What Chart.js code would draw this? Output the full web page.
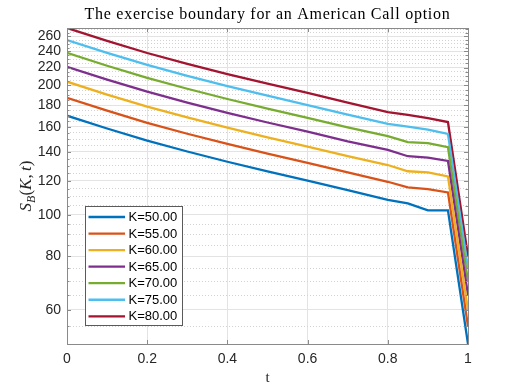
<!DOCTYPE html>
<html>
<head>
<meta charset="utf-8">
<script src="https://cdn.jsdelivr.net/npm/chart.js@4.4.1/dist/chart.umd.min.js"></script>
<style>
  body { margin: 0; background: #fff; }
  #wrap { width: 516px; height: 387px; }
</style>
</head>
<body>
<div id="wrap"><canvas id="boundary" width="516" height="387"></canvas></div>
<script>
// time grid (t)
const times = [0, 0.1, 0.2, 0.3, 0.4, 0.5, 0.6, 0.7, 0.8, 0.85, 0.9, 0.95, 1];

const strikeLabels = ["K=50.00", "K=55.00", "K=60.00", "K=65.00", "K=70.00", "K=75.00", "K=80.00"];
const lineColors = ["#0072BD", "#D95319", "#EDB120", "#7E2F8E", "#77AC30", "#4DBEEE", "#A2142F"];

// S_B(K,t)
const sbK50 = [170, 158.7, 148.7, 140.3, 132.8, 126.1, 120, 114, 108.3, 106.2, 102.3, 102.3, 50];
const sbK55 = [187, 174.6, 163.6, 154.3, 146.1, 138.7, 132, 125.4, 119.3, 115.8, 114.7, 112.7, 55];
const sbK60 = [204, 190.4, 178.4, 168.4, 159.4, 151.3, 144, 136.8, 130.5, 126.2, 125.5, 122.8, 60];
const sbK65 = [221, 206.3, 193.3, 182.4, 172.6, 163.9, 156, 148.2, 141.5, 136.8, 135.8, 133.4, 65];
const sbK70 = [238, 222.2, 208.2, 196.4, 185.9, 176.5, 168, 159.6, 152.3, 147.5, 146.7, 143.6, 70];
const sbK75 = [255, 238.1, 223.1, 210.5, 199.2, 189.2, 180, 171, 162.7, 160.4, 157.8, 154.2, 75];
const sbK80 = [272, 253.9, 237.9, 224.5, 212.5, 201.8, 192, 182.4, 173.3, 170.8, 167.8, 164.3, 80];

const allSeries = [sbK50, sbK55, sbK60, sbK65, sbK70, sbK75, sbK80];

// y tick values (every 5, labelled every 20)
const yTickValues = [];
for (let v = 50; v <= 270; v += 5) yTickValues.push(v);
const yLabelled = [60, 80, 100, 120, 140, 160, 180, 200, 220, 240, 260];
const xTickValues = [0, 0.2, 0.4, 0.6, 0.8, 1];

const titleText = "The exercise boundary for an American Call option";

const datasets = allSeries.map((vals, i) => ({
  label: strikeLabels[i],
  data: vals.map((v, j) => ({ x: times[j], y: v })),
  borderColor: lineColors[i],
  backgroundColor: lineColors[i],
  borderWidth: 2.3,
  pointRadius: 0,
  tension: 0,
  fill: false
}));

const axisGray = "#8a8a8a";
const tickFont = { family: "'Liberation Sans', Arial, sans-serif", size: 14 };
const serif = "'Liberation Serif', 'DejaVu Serif', serif";

// box around plot + inward tick marks
const boxTicks = {
  id: "boxTicks",
  afterDatasetsDraw(chart) {
    const { ctx, chartArea: a, scales } = chart;
    ctx.save();
    ctx.strokeStyle = axisGray;
    ctx.lineWidth = 1;
    ctx.beginPath();
    xTickValues.forEach(v => {
      const px = Math.round(scales.x.getPixelForValue(v)) + 0.5;
      ctx.moveTo(px, a.bottom); ctx.lineTo(px, a.bottom - 4);
      ctx.moveTo(px, a.top); ctx.lineTo(px, a.top + 4);
    });
    yTickValues.forEach(v => {
      const py = Math.round(scales.y.getPixelForValue(v)) + 0.5;
      const len = yLabelled.includes(v) ? 4 : 2.5;
      ctx.moveTo(a.left, py); ctx.lineTo(a.left + len, py);
      ctx.moveTo(a.right, py); ctx.lineTo(a.right - len, py);
    });
    ctx.stroke();
    ctx.strokeRect(Math.round(a.left) + 0.5, Math.round(a.top) + 0.5,
      Math.round(a.right - a.left), Math.round(a.bottom - a.top));
    ctx.restore();
  }
};

// title, legend box inside plot, y axis label with subscript
const overlays = {
  id: "overlays",
  afterDraw(chart) {
    const { ctx, chartArea: a } = chart;
    ctx.save();

    // title centred over plot area
    ctx.font = "16px " + serif;
    const w0 = ctx.measureText(titleText).width;
    const ls = Math.max(0, (365 - w0) / (titleText.length - 1));
    ctx.letterSpacing = ls.toFixed(2) + "px";
    const w1 = ctx.measureText(titleText).width;
    ctx.fillStyle = "#000";
    ctx.textBaseline = "alphabetic";
    ctx.fillText(titleText, (a.left + a.right) / 2 - w1 / 2, 18.5);
    ctx.letterSpacing = "0px";

    // legend
    const bx = 85.5, by = 206.5, bw = 97, bh = 119;
    ctx.fillStyle = "#fff";
    ctx.fillRect(bx, by, bw, bh);
    ctx.strokeStyle = "#5a5a5a";
    ctx.lineWidth = 1;
    ctx.strokeRect(bx, by, bw, bh);
    ctx.font = "13px 'Liberation Sans', Arial, sans-serif";
    ctx.textBaseline = "middle";
    chart.data.datasets.forEach((ds, i) => {
      const y = 217 + i * 16.55;
      ctx.strokeStyle = ds.borderColor;
      ctx.lineWidth = 2.3;
      ctx.beginPath();
      ctx.moveTo(88.5, y); ctx.lineTo(125, y);
      ctx.stroke();
      ctx.fillStyle = "#000";
      ctx.fillText(ds.label, 128.5, y + 0.5);
    });

    // S_B(K,t)
    ctx.translate(26, 186);
    ctx.rotate(-Math.PI / 2);
    const big = "17px " + serif;
    const bigIt = "italic 17px " + serif;
    const small = "italic 12px " + serif;
    const parts = [
      ["S", bigIt, 0], ["B", small, 4], ["(", big, 0], ["K", bigIt, 0],
      [",", big, 0], ["\u2009t", bigIt, 0], [")", big, 0]
    ];
    let total = 0;
    parts.forEach(p => { ctx.font = p[1]; total += ctx.measureText(p[0]).width; });
    let cx = -total / 2;
    ctx.fillStyle = "#262626";
    ctx.textBaseline = "alphabetic";
    parts.forEach(p => {
      ctx.font = p[1];
      ctx.fillText(p[0], cx, 5 + p[2]);
      cx += ctx.measureText(p[0]).width;
    });
    ctx.restore();
  }
};

new Chart(document.getElementById("boundary"), {
  type: "line",
  data: { datasets },
  plugins: [boxTicks, overlays],
  options: {
    responsive: false,
    animation: false,
    layout: { padding: { left: 0, right: 48, top: 28, bottom: 0 } },
    plugins: {
      legend: { display: false },
      tooltip: { enabled: false },
      title: { display: false }
    },
    scales: {
      x: {
        type: "linear",
        min: 0,
        max: 1,
        afterBuildTicks: s => { s.ticks = xTickValues.map(v => ({ value: v })); },
        afterFit: s => { s.height = 43; },
        ticks: {
          color: "#262626",
          font: tickFont,
          padding: 7,
          maxRotation: 0,
          autoSkip: false,
          callback: v => String(Number(v.toFixed(1)))
        },
        grid: { color: "#e3e3e3", lineWidth: 1, drawTicks: false },
        border: { display: false },
        title: {
          display: true,
          text: "t",
          color: "#262626",
          font: { family: serif, size: 15 },
          padding: { top: 0, bottom: 0 }
        }
      },
      y: {
        type: "logarithmic",
        min: 50,
        max: 272,
        afterBuildTicks: s => { s.ticks = yTickValues.map(v => ({ value: v })); },
        afterFit: s => { s.width = 67; },
        ticks: {
          color: "#262626",
          font: tickFont,
          padding: 6,
          autoSkip: false,
          callback: v => (yLabelled.includes(v) ? String(v) : "")
        },
        grid: {
          drawTicks: false,
          lineWidth: 1,
          color: c => (c.tick && yLabelled.includes(c.tick.value) ? "#e3e3e3" : "#d2d2d2")
        },
        border: {
          display: false,
          dash: c => (c.tick && !yLabelled.includes(c.tick.value) ? [1, 2] : [])
        }
      }
    }
  }
});
</script>
</body>
</html>
